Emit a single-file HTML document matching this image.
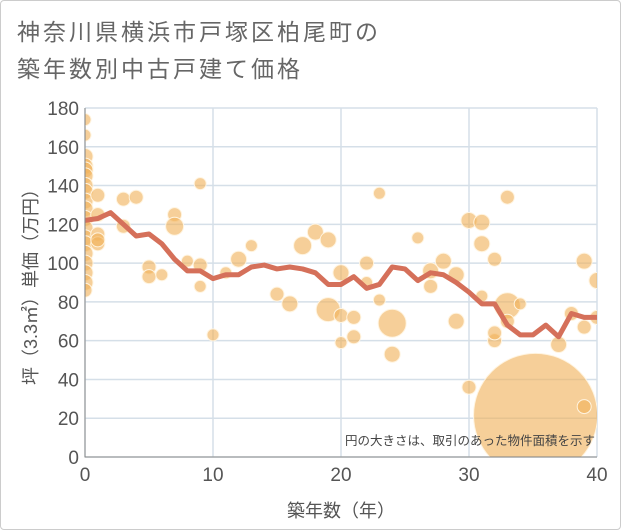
<!DOCTYPE html>
<html><head><meta charset="utf-8"><style>
body{margin:0;background:#fff;font-family:"Liberation Sans","Noto Sans CJK JP",sans-serif;}
#wrap{position:relative;width:619px;height:528px;border:1px solid #ccc;border-radius:4px;overflow:hidden}
</style></head><body>
<div id="wrap">
<svg id="chart" width="619" height="528"></svg>
</div>
<script>
const years=[0,1,2,3,4,5,6,7,8,9,10,11,12,13,14,15,16,17,18,19,20,21,22,23,24,25,26,27,28,29,30,31,32,33,34,35,36,37,38,39,40];
const avgPrice=[122,123,126,120,114,115,110,102,96,96,92,94,94,98,99,97,98,97,95,89,89,93,87,89,98,97,91,95,94,90,85,79,79,68,63,63,68,62,74,72,72];
const bubbleYear=[0,0,0,0,0,0,0,0,0,0,0,0,0,0,0,0,0,0,0,1,1,1,1,1,3,3,4,5,5,6,7,7,8,9,9,9,10,11,12,13,15,16,17,18,19,19,20,20,20,21,21,22,22,23,23,24,24,26,27,27,28,29,29,30,30,31,31,31,32,32,32,33,33,33,34,35.2,37,38,39,40,40,39,39];
const bubblePrice=[174,166,155,150,148,145,140,137,132,128,123,118,113,110,105,100,95,90,86,135,125,115,110,112,133,119,134,98,93,94,125,119,101,141,99,88,63,95,102,109,84,79,109,116,112,76,95,59,73,62,72,100,90,136,81,69,53,113,96,88,101,94,70,122,36,121,110,83,102,60,64,134,78,70,79,21.5,58,74,101,91,72,26,67];
const bubbleR=[6,6,8,8,8,8,8,8,8,8,8,8,8,8,8,8,8,8,7,7,7,7,7,7,7,7,7,7,7,6,7,9,6,6,7,6,6,6,8,6,7,8,9,8,8,12,8,6,7,7,7,7,6,6,6,14,8,6,8,7,8,8,8,8,7,8,8,6,7,7,7,7,13,7,6,62,8,7,8,8,7,7,7];
const yTicks=[0,20,40,60,80,100,120,140,160,180];
const xTicks=[0,10,20,30,40];
const NS="http://www.w3.org/2000/svg";
const svg=document.getElementById('chart');
const L=84,R=596,T=107,B=456;
const xs=v=>L+(v/40)*(R-L), ys=v=>B-(v/180)*(B-T);
function mk(t,a,p){const e=document.createElementNS(NS,t);for(const k in a)e.setAttribute(k,a[k]);(p||svg).appendChild(e);return e;}
const defs=mk('defs',{});const cp=mk('clipPath',{id:'cp'},defs);mk('rect',{x:L,y:T,width:R-L,height:B-T},cp);
yTicks.forEach(v=>{const l=mk('line',{x1:L,x2:R,y1:ys(v),y2:ys(v),stroke:'#d5dfe8','stroke-width':1.5});

const t=mk('text',{x:L-6,y:ys(v)+7,'text-anchor':'end','font-size':19,fill:'#555'});t.textContent=v;
});
xTicks.forEach(v=>{const l=mk('line',{x1:xs(v),x2:xs(v),y1:T,y2:B,stroke:'#d5dfe8','stroke-width':1.5});

const t=mk('text',{x:xs(v),y:B+24,'text-anchor':'middle','font-size':19,fill:'#555'});t.textContent=v;
});
const g=mk('g',{'clip-path':'url(#cp)'});
bubbleYear.forEach((yr,i)=>{const c=mk('circle',{cx:xs(yr),cy:ys(bubblePrice[i]),r:bubbleR[i],fill:'rgba(240,178,90,0.62)',stroke:'#fff4e0','stroke-width':1},g);
});
const pts=years.map((y,i)=>xs(y)+','+ys(avgPrice[i])).join(' ');
const pl=mk('polyline',{points:pts,fill:'none',stroke:'#d5705a','stroke-width':5,'stroke-linejoin':'round'},g);

const ax=mk('path',{d:`M${L},${T}V${B}H${R}`,fill:'none',stroke:'#888','stroke-width':1});

const note=mk('text',{x:R-2,y:B-12,'text-anchor':'end','font-size':12.5,fill:'#444'});note.textContent='円の大きさは、取引のあった物件面積を示す';

const t1=mk('text',{x:16,y:39,'font-size':23,fill:'#666','letter-spacing':3});t1.textContent='神奈川県横浜市戸塚区柏尾町の';

const t2=mk('text',{x:16,y:76,'font-size':23,fill:'#666','letter-spacing':3});t2.textContent='築年数別中古戸建て価格';

const xt=mk('text',{x:(L+R)/2,y:516,'text-anchor':'middle','font-size':18,fill:'#555'});xt.textContent='築年数（年）';

const yt=mk('text',{x:0,y:0,'text-anchor':'middle','font-size':18,fill:'#555',transform:`translate(36,${(T+B)/2}) rotate(-90)`});yt.textContent='坪（3.3㎡）単価（万円）';

</script>
</body></html>
